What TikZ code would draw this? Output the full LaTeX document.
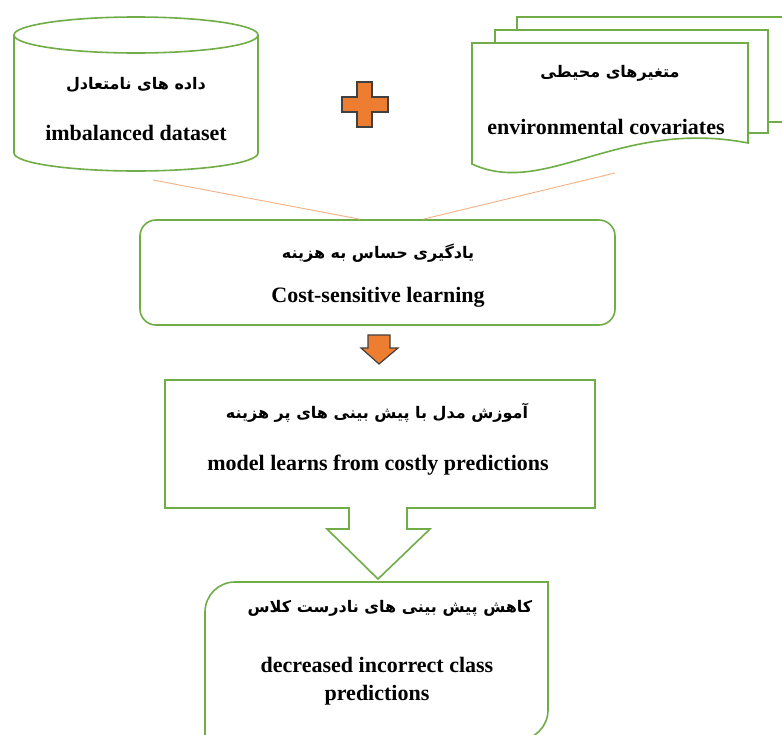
\documentclass[tikz,border=0pt]{standalone}
\usepackage{fontspec}
\setmainfont{Liberation Serif}
\newfontfamily\fa[Script=Arabic]{DejaVu Sans}
\TeXXeTstate=1
\definecolor{gr}{RGB}{112,173,71}
\definecolor{org}{RGB}{237,125,49}
\definecolor{peach}{RGB}{244,177,131}
\definecolor{outl}{RGB}{64,64,64}
\begin{document}
\begin{tikzpicture}[x=1pt,y=-1pt,
 box/.style={draw=gr, line width=1.6pt, fill=white},
 en/.style={font=\fontsize{22}{28}\selectfont\bfseries, inner sep=0pt, align=center},
 fat/.style={font=\fa\fontsize{16}{20}\selectfont\bfseries, inner sep=0pt},
 conn/.style={draw=peach, line width=0.9pt},
 orangeshape/.style={fill=org, draw=outl, line width=1.2pt, line join=miter}]
\clip (0,0) rectangle (782,734);
\fill[white] (0,0) rectangle (782,734);
% cylinder
\draw[box] (14,35) -- (14,153) arc[start angle=180,end angle=0,x radius=122,y radius=18] -- (258,35);
\draw[box] (136,35) ellipse [x radius=122,y radius=18];
\node[fat] (cylfa) at (136,85) {\beginR داده های نامتعادل\endR};
\node[en] (cylen) at (136,133) {imbalanced dataset};
% plus
\draw[orangeshape] (357,82) -- (372,82) -- (372,97) -- (388,97) -- (388,112) -- (372,112) -- (372,127) -- (357,127) -- (357,112) -- (342,112) -- (342,97) -- (357,97) -- cycle;
% documents
\draw[box] (517,17) rectangle (800,122);
\draw[box] (495,30) rectangle (768,133);
\draw[box] (472,43) -- (748,43) -- (748,143) .. controls (620,118) and (545,198) .. (472,164) -- cycle;
\node[fat] (docfa) at (610,73) {\beginR متغیرهای محیطی\endR};
\node[en] (docen) at (606,127) {environmental covariates};
% learning box
\node[box, rounded corners=16pt, minimum width=475pt, minimum height=105pt] (learn) at (377.5,272.5) {};
\node[fat] (learnfa) at (378,253) {\beginR یادگیری حساس به هزینه\endR};
\node[en] (learnen) at (378,297) {Cost-sensitive learning};
\coordinate (s1) at (153,180);
\coordinate (s2) at (615,173);
\draw[conn] (s1) -- ([xshift=-17.5pt]learn.north);
\draw[conn] (s2) -- ([xshift=45.5pt]learn.north);
% down arrow
\draw[orangeshape] (368,335) -- (390,335) -- (390,348) -- (398,348) -- (379,364) -- (361,348) -- (368,348) -- cycle;
% callout box
\draw[box] (165,380) -- (595,380) -- (595,508) -- (407,508) -- (407,529) -- (430,529) -- (378,579) -- (327,529) -- (349,529) -- (349,508) -- (165,508) -- cycle;
\node[fat] (modelfa) at (377,413) {\beginR آموزش مدل با پیش بینی های پر هزینه\endR};
\node[en] (modelen) at (378,465) {model learns from costly predictions};
% result box
\draw[box] (205,745) -- (205,612) .. controls (205,595.4) and (218.4,582) .. (235,582) -- (548,582) -- (548,710) .. controls (548,726.6) and (534.6,740) .. (518,740) -- (200,740);
\node[fat] (resfa) at (390,608) {\beginR کاهش پیش بینی های نادرست کلاس\endR};
\node[en] (resen) at (377,681) {decreased incorrect class\\predictions};
\end{tikzpicture}
\end{document}
